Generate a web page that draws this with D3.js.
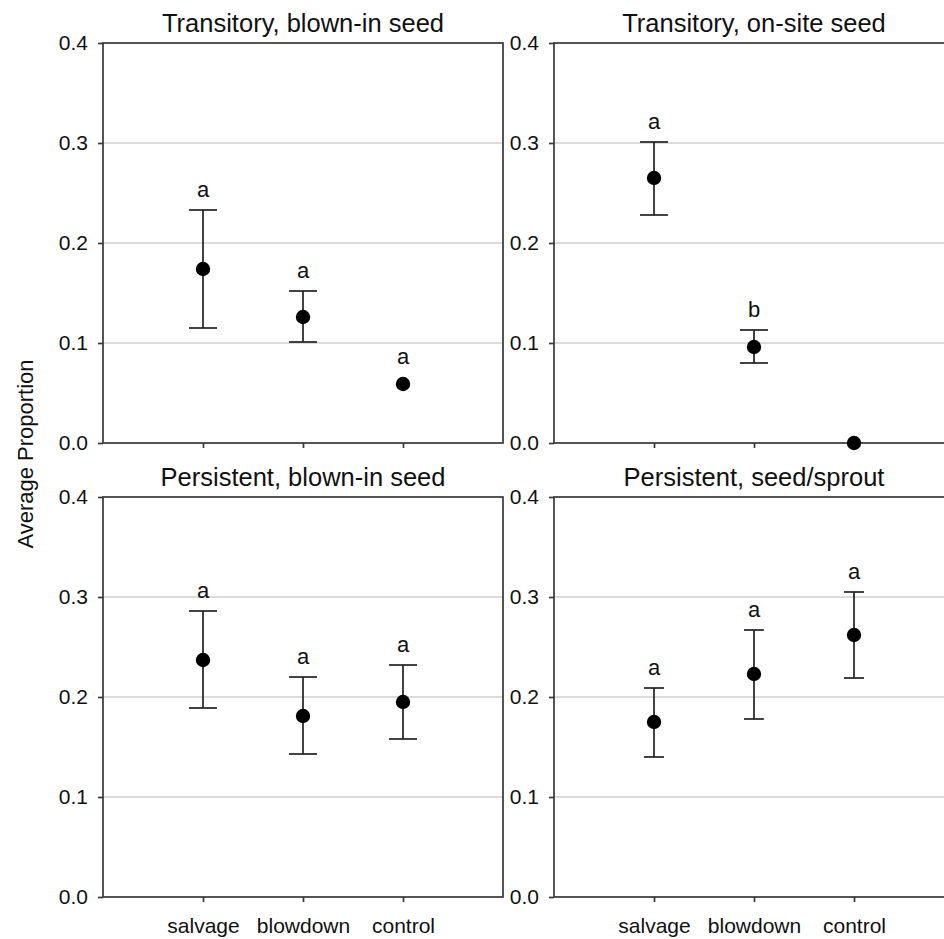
<!DOCTYPE html>
<html>
<head>
<meta charset="utf-8">
<script src="https://cdn.jsdelivr.net/npm/d3@7"></script>
<style>
  body { margin: 0; background: #fff; }
  svg { display: block; font-family: "Liberation Sans", Arial, sans-serif; }
</style>
</head>
<body>
<div id="chart"></div>
<script>
// Dados
var categories   =   ['salvage', 'blowdown', 'control'];
var titles       =   ['Transitory, blown-in seed', 'Transitory, on-site seed',
                      'Persistent, blown-in seed', 'Persistent, seed/sprout'];
var means        =   [[0.174, 0.126, 0.059], [0.265, 0.096, 0.000],
                      [0.237, 0.181, 0.195], [0.175, 0.223, 0.262]];
var upper        =   [[0.233, 0.152, 0.059], [0.301, 0.113, 0.000],
                      [0.286, 0.220, 0.232], [0.209, 0.267, 0.305]];
var lower        =   [[0.115, 0.101, 0.059], [0.228, 0.080, 0.000],
                      [0.189, 0.143, 0.158], [0.140, 0.178, 0.219]];
var letters      =   [['a', 'a', 'a'], ['a', 'b', ''],
                      ['a', 'a', 'a'], ['a', 'a', 'a']];
var y_ticks      =   [0.0, 0.1, 0.2, 0.3, 0.4];
var grid_ticks   =   [0.1, 0.2, 0.3];

// Criar SVG
var chart_width     =   944;
var chart_height    =   939;
var panel_width     =   400;
var panel_height    =   400;
var panel_x         =   [103, 554, 103, 554];
var panel_y         =   [43, 43, 497, 497];
var cap_half        =   [14, 14, 14, 10];
var axis_color      =   '#383838';

var svg = d3.select('#chart')
    .append('svg')
    .attr('width', chart_width)
    .attr('height', chart_height);

// Escalas
var x_scale = d3.scaleLinear()
    .domain([0, 4])
    .range([0, panel_width]);

var y_scale = d3.scaleLinear()
    .domain([0, 0.4])
    .range([panel_height, 0]);

titles.forEach(function(title, p) {
    var g = svg.append('g')
        .attr('transform', 'translate(' + panel_x[p] + ',' + panel_y[p] + ')');

    // linhas de grade
    g.selectAll('.grid')
        .data(grid_ticks)
        .enter()
        .append('line')
        .attr('x1', 0)
        .attr('x2', panel_width)
        .attr('y1', function(d) { return y_scale(d); })
        .attr('y2', function(d) { return y_scale(d); })
        .attr('stroke', '#cfcfcf')
        .attr('stroke-width', 1.5);

    // moldura
    g.append('rect')
        .attr('width', panel_width)
        .attr('height', panel_height)
        .attr('fill', 'none')
        .attr('stroke', axis_color)
        .attr('stroke-width', 1.7);

    // eixo y
    var y_axis = g.append('g')
        .call(d3.axisLeft(y_scale)
            .tickValues(y_ticks)
            .tickFormat(d3.format('.1f'))
            .tickSize(5)
            .tickPadding(10));

    // eixo x
    var x_axis = g.append('g')
        .attr('transform', 'translate(0,' + panel_height + ')')
        .call(d3.axisBottom(x_scale)
            .tickValues([1, 2, 3])
            .tickFormat(function(d) { return p >= 2 ? categories[d - 1] : ''; })
            .tickSize(5)
            .tickPadding(16));

    [y_axis, x_axis].forEach(function(ax) {
        ax.select('.domain').remove();
        ax.selectAll('line')
            .attr('stroke', axis_color)
            .attr('stroke-width', 1.7);
        ax.selectAll('text')
            .attr('font-size', 21)
            .attr('font-family', '"Liberation Sans", Arial, sans-serif')
            .attr('fill', '#111');
    });

    // titulo
    g.append('text')
        .attr('x', panel_width / 2)
        .attr('y', -11)
        .attr('text-anchor', 'middle')
        .attr('font-size', 25.5)
        .attr('fill', '#111')
        .text(title);

    var rows = categories.map(function(c, i) {
        return { i: i + 1, m: means[p][i], hi: upper[p][i], lo: lower[p][i], l: letters[p][i] };
    });
    var with_err = rows.filter(function(d) { return d.hi > d.lo; });

    // barras de erro
    g.selectAll('.stem')
        .data(with_err)
        .enter()
        .append('line')
        .attr('x1', function(d) { return x_scale(d.i); })
        .attr('x2', function(d) { return x_scale(d.i); })
        .attr('y1', function(d) { return y_scale(d.hi); })
        .attr('y2', function(d) { return y_scale(d.lo); })
        .attr('stroke', '#222')
        .attr('stroke-width', 1.7);

    ['hi', 'lo'].forEach(function(k) {
        g.selectAll('.cap-' + k)
            .data(with_err)
            .enter()
            .append('line')
            .attr('x1', function(d) { return x_scale(d.i) - cap_half[p]; })
            .attr('x2', function(d) { return x_scale(d.i) + cap_half[p]; })
            .attr('y1', function(d) { return y_scale(d[k]); })
            .attr('y2', function(d) { return y_scale(d[k]); })
            .attr('stroke', '#222')
            .attr('stroke-width', 1.7);
    });

    // pontos
    g.selectAll('circle')
        .data(rows)
        .enter()
        .append('circle')
        .attr('cx', function(d) { return x_scale(d.i); })
        .attr('cy', function(d) { return y_scale(d.m); })
        .attr('r', 7.2)
        .attr('fill', '#000');

    // letras
    g.selectAll('.letter')
        .data(rows)
        .enter()
        .append('text')
        .attr('x', function(d) { return x_scale(d.i); })
        .attr('y', function(d) {
            return d.hi > d.lo ? y_scale(d.hi) - 13 : y_scale(d.m) - 20;
        })
        .attr('text-anchor', 'middle')
        .attr('font-size', 22)
        .attr('fill', '#111')
        .text(function(d) { return d.l; });
});

// Rotulo do eixo y
svg.append('text')
    .attr('transform', 'translate(33,454) rotate(-90)')
    .attr('text-anchor', 'middle')
    .attr('font-size', 22)
    .attr('fill', '#111')
    .text('Average Proportion');
</script>
</body>
</html>
